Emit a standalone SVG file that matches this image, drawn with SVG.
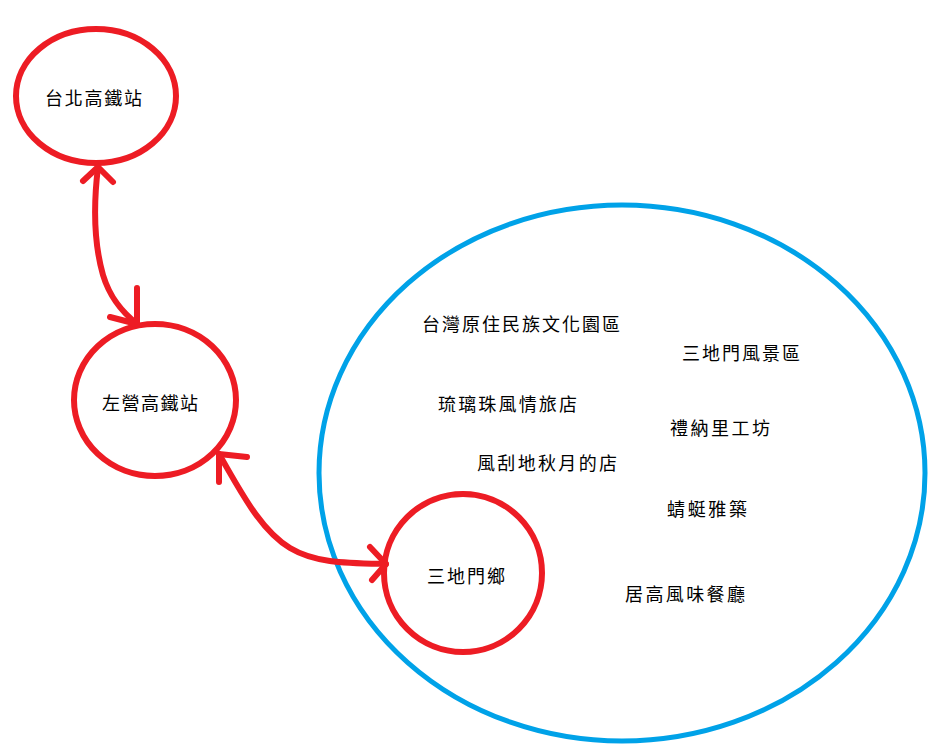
<svg xmlns="http://www.w3.org/2000/svg" width="931" height="745" viewBox="0 0 931 745">
<style>
.red{fill:none;stroke:#ED1C24;stroke-width:6;stroke-linecap:round;stroke-linejoin:round}
.blue{fill:none;stroke:#00A2E8;stroke-width:5}
text{font-family:"Noto Sans CJK TC","Noto Sans CJK SC",sans-serif;font-size:18px;fill:#000;dominant-baseline:central}
</style>
<rect width="931" height="745" fill="#fff"/>
<g id="area">
<ellipse class="blue" cx="622" cy="473" rx="303" ry="268"/>
</g>
<g id="taipei">
<ellipse class="red" cx="96" cy="96" rx="80" ry="67"/>
<text x="45" y="97" textLength="97" lengthAdjust="spacing">台北高鐵站</text>
</g>
<g id="zuoying">
<ellipse class="red" cx="155" cy="400" rx="81" ry="76"/>
<text x="102" y="402" textLength="96" lengthAdjust="spacing">左營高鐵站</text>
</g>
<g id="sandimen">
<ellipse class="red" cx="463" cy="573" rx="79" ry="79"/>
<text x="427" y="575" textLength="78" lengthAdjust="spacing">三地門鄉</text>
</g>
<g id="places">
<text x="422" y="323" textLength="198" lengthAdjust="spacing">台灣原住民族文化園區</text>
<text x="682" y="352" textLength="118" lengthAdjust="spacing">三地門風景區</text>
<text x="438" y="403" textLength="139" lengthAdjust="spacing">琉璃珠風情旅店</text>
<text x="670" y="427" textLength="100" lengthAdjust="spacing">禮納里工坊</text>
<text x="477" y="462" textLength="140" lengthAdjust="spacing">風刮地秋月的店</text>
<text x="667" y="508" textLength="80" lengthAdjust="spacing">蜻蜓雅築</text>
<text x="625" y="593" textLength="120" lengthAdjust="spacing">居高風味餐廳</text>
</g>
<g id="connectors">
<path class="red" d="M98,167 C94,200 93,240 103,275 C110,298 122,312 137,324"/>
<path class="red" d="M83,181 L98,167 L113,182"/>
<path class="red" d="M137,288 L137,324 L110,317"/>
<path class="red" d="M219,454 C240,490 260,530 290,548 C315,563 345,563 386,564"/>
<path class="red" d="M247,457 L219,454 L219,482"/>
<path class="red" d="M370,547 L386,564 L372,580"/>
</g>
</svg>
